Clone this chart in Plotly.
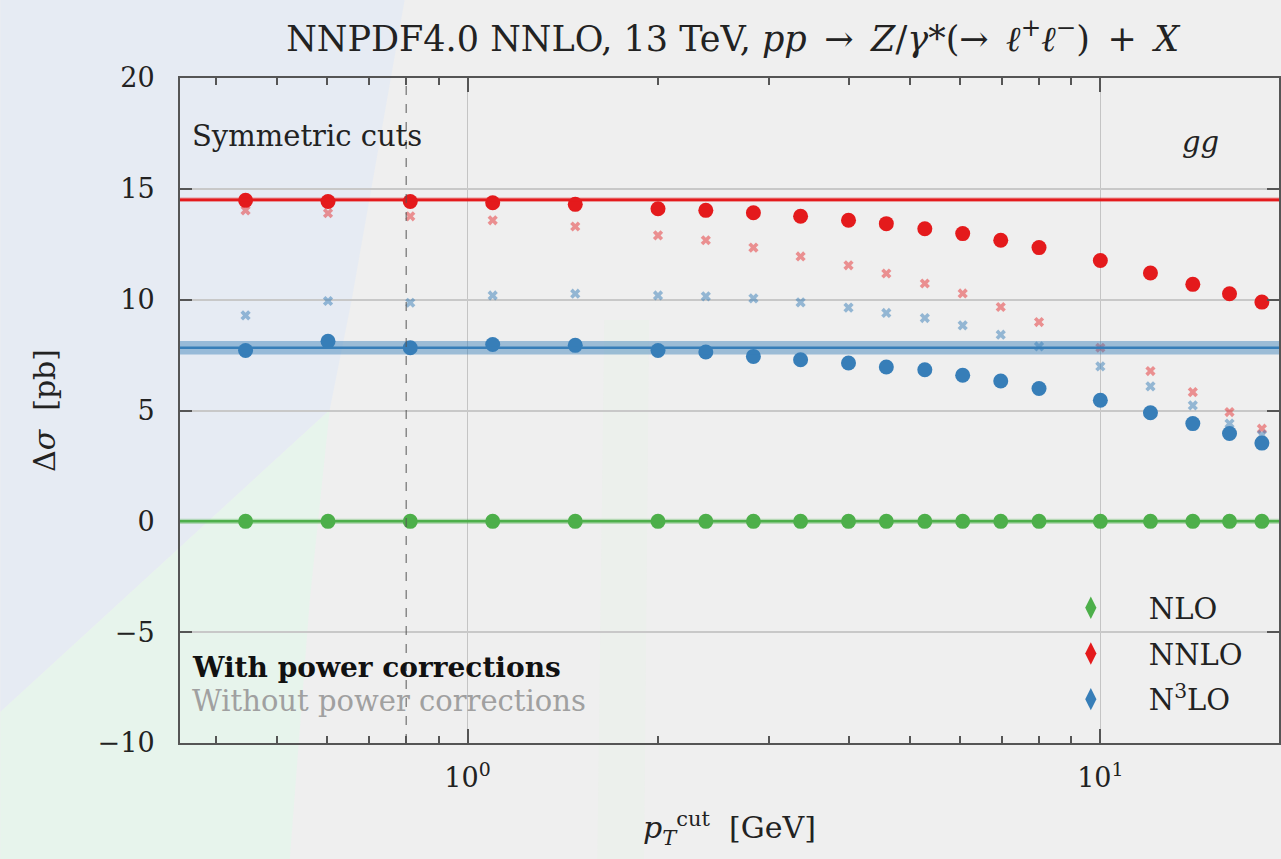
import plotly.graph_objects as go

# p_T^cut values [GeV]
pt_cut = [0.446, 0.602, 0.812, 1.096, 1.48, 2.0, 2.38, 2.83, 3.36, 4.0,
          4.59, 5.28, 6.06, 6.96, 8.0, 10.0, 12.0, 14.0, 16.0, 18.0]

# Delta sigma [pb], with power corrections
nlo_pc = [0.0, 0.0, 0.0, 0.0, 0.0, 0.0, 0.0, 0.0, 0.0, 0.0,
          0.0, 0.0, 0.0, 0.0, 0.0, 0.0, 0.0, 0.0, 0.0, 0.0]
nnlo_pc = [14.48, 14.43, 14.43, 14.37, 14.30, 14.10, 14.03, 13.92, 13.76, 13.58,
           13.43, 13.20, 12.98, 12.68, 12.35, 11.77, 11.20, 10.69, 10.27, 9.89]
n3lo_pc = [7.71, 8.12, 7.83, 7.98, 7.94, 7.71, 7.64, 7.44, 7.29, 7.14,
           6.96, 6.84, 6.59, 6.33, 5.99, 5.46, 4.90, 4.41, 3.96, 3.53]

# Delta sigma [pb], without power corrections
nnlo_nopc = [14.03, 13.90, 13.76, 13.58, 13.30, 12.90, 12.68, 12.35, 11.95, 11.55,
             11.18, 10.73, 10.28, 9.67, 8.99, 7.83, 6.78, 5.83, 4.93, 4.18]
n3lo_nopc = [9.29, 9.94, 9.86, 10.19, 10.27, 10.19, 10.15, 10.06, 9.88, 9.64,
             9.40, 9.17, 8.84, 8.42, 7.89, 6.99, 6.09, 5.23, 4.41, 3.90]

# total (no cut) results: value and uncertainty
orders = ['NLO', 'NNLO', 'N<sup>3</sup>LO']
total_val = [0.0, 14.51, 7.83]
total_err = [0.12, 0.10, 0.30]
colors = ['#4daf4a', '#e41a1c', '#377eb8']
faded = ['rgba(77,175,74,0.35)', 'rgba(228,26,28,0.4)', 'rgba(55,126,184,0.45)']

pt_ref = 0.8

FONT = 'DejaVu Serif'
W, H = 1281, 859
L, R, T, B = 180, 0, 78, 116


def px_path(pts):
    # background decoration given in figure pixels -> plot-paper coords
    pw, ph = W - L - R, H - T - B
    s = ''
    for i, (x, y) in enumerate(pts):
        s += ('M' if i == 0 else 'L') + f'{(x - L) / pw:.4f},{(H - B - y) / ph:.4f} '
    return s + 'Z'


fig = go.Figure()

# bands for the total cross sections
for v, e, c, f in zip(total_val, total_err, colors, faded):
    fig.add_shape(type='rect', xref='x domain', yref='y', x0=0, x1=1,
                  y0=v - e, y1=v + e, fillcolor=f, line_width=0, layer='above')
    fig.add_shape(type='line', xref='x domain', yref='y', x0=0, x1=1,
                  y0=v, y1=v, line=dict(color=c, width=2.5), layer='above')

fig.add_shape(type='line', xref='x', yref='y domain', x0=pt_ref, x1=pt_ref,
              y0=0, y1=1, line=dict(color='#555555', width=1, dash='dash'))

# without power corrections (faded crosses)
fig.add_trace(go.Scatter(x=pt_cut, y=nnlo_nopc, mode='markers', showlegend=False,
                         marker=dict(symbol='x', size=9, color=colors[1], opacity=0.45)))
fig.add_trace(go.Scatter(x=pt_cut, y=n3lo_nopc, mode='markers', showlegend=False,
                         marker=dict(symbol='x', size=9, color=colors[2], opacity=0.5)))

# with power corrections
for ys, c in zip([nlo_pc, nnlo_pc, n3lo_pc], colors):
    fig.add_trace(go.Scatter(x=pt_cut, y=ys, mode='markers', showlegend=False,
                             marker=dict(symbol='circle', size=15, color=c)))

# legend entries
for i, (name, c) in enumerate(zip(orders, colors)):
    fig.add_trace(go.Scatter(x=[None], y=[None], mode='markers', name=name,
                             legendgroup=str(i),
                             marker=dict(symbol='diamond-tall', size=22, color=c)))

bg = [
    dict(pts=[(0, 0), (405, 0), (352, 300), (330, 410), (0, 712)], color='#e6ebf3'),
    dict(pts=[(0, 712), (330, 410), (310, 600), (290, 859), (0, 859)], color='#e7f4ec'),
    dict(pts=[(605, 320), (650, 320), (645, 859), (598, 859)], color='#ecf0ec'),
]
for b in bg:
    fig.add_shape(type='path', xref='paper', yref='paper', path=px_path(b['pts']),
                  fillcolor=b['color'], line_width=0, layer='below')

fig.add_annotation(x=0.009, y=0.913, xref='paper', yref='paper', text='Symmetric cuts',
                   showarrow=False, xanchor='left', yanchor='middle',
                   font=dict(family=FONT, size=29, color='#222222'))
fig.add_annotation(x=0.929, y=0.904, xref='paper', yref='paper', text='<i>gg</i>',
                   showarrow=False, xanchor='center', yanchor='middle',
                   font=dict(family=FONT, size=29, color='#222222'))
fig.add_annotation(x=0.009, y=0.113, xref='paper', yref='paper',
                   text='<b>With power corrections</b>', showarrow=False,
                   xanchor='left', yanchor='middle', font=dict(family=FONT, size=28, color='#111111'))
fig.add_annotation(x=0.009, y=0.063, xref='paper', yref='paper',
                   text='Without power corrections', showarrow=False,
                   xanchor='left', yanchor='middle', font=dict(family=FONT, size=29, color='#a0a0a0'))

axis_col = '#555555'
sp = '\u2002'
fig.update_layout(
    width=W, height=H,
    margin=dict(l=L, r=R, t=T, b=B),
    paper_bgcolor='#efefef',
    plot_bgcolor='rgba(0,0,0,0)',
    font=dict(family=FONT, size=27, color='#222222'),
    title=dict(text=f'NNPDF4.0 NNLO, 13 TeV, <i>pp</i>{sp}→{sp}<i>Z</i>/<i>γ</i>*(→{sp}<i>ℓ</i><sup>+</sup><i>ℓ</i><sup>−</sup>){sp}+{sp}<i>X</i>',
               x=0.572, xanchor='center', y=0.955, yanchor='middle',
               font=dict(family=FONT, size=35, color='#222222')),
    showlegend=True,
    legend=dict(x=0.776, y=0.134, xanchor='left', yanchor='middle',
                bgcolor='rgba(0,0,0,0)', traceorder='grouped', tracegroupgap=5,
                font=dict(family=FONT, size=29, color='#222222'), itemwidth=106),
    xaxis=dict(type='log', range=[-0.4543, 1.2823],
               tickvals=[1, 10], ticktext=['10<sup>0</sup>', '10<sup>1</sup>'],
               ticks='inside', ticklen=14, tickwidth=1.5, tickcolor=axis_col,
               ticklabelstandoff=10,
               showline=True, linecolor=axis_col, linewidth=2, mirror='ticks',
               showgrid=True, gridcolor='#c4c4c4', gridwidth=1,
               minor=dict(tickvals=[0.4, 0.5, 0.6, 0.7, 0.8, 0.9, 2, 3, 4, 5, 6, 7, 8, 9],
                          ticks='inside', ticklen=7, tickwidth=1.5, tickcolor=axis_col,
                          showgrid=False),
               tickfont=dict(size=27), zeroline=False,
               title=dict(text='<i>p</i><sub><i>T</i></sub><sup>cut</sup>  [GeV]', standoff=25,
                          font=dict(size=30))),
    yaxis=dict(range=[-10, 20], tickvals=[-10, -5, 0, 5, 10, 15, 20],
               ticks='inside', ticklen=12, tickwidth=2, tickcolor=axis_col,
               ticklabelstandoff=18,
               showline=True, linecolor=axis_col, linewidth=2, mirror='ticks',
               showgrid=True, gridcolor='#c8c8c8', gridwidth=1.5, zeroline=False,
               tickfont=dict(size=27),
               title=dict(text='Δ<i>σ</i>  [pb]', standoff=33, font=dict(size=30))),
)

fig.write_html('out.html', config={'displayModeBar': False},
               post_script="document.body.style.margin='0';")
